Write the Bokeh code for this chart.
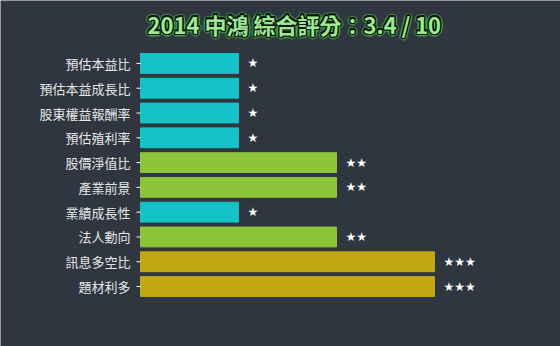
import math
import numpy as np
from bokeh.plotting import figure
from bokeh.models import ColumnDataSource, Range1d
from bokeh.embed import file_html
from bokeh.resources import INLINE
from bokeh.core.properties import value

categories = ["預估本益比", "預估本益成長比", "股東權益報酬率", "預估殖利率", "股價淨值比",
              "產業前景", "業績成長性", "法人動向", "訊息多空比", "題材利多"]
scores = [1, 1, 1, 1, 2, 2, 1, 2, 3, 3]
title_text = "2014 中鴻 綜合評分：3.4 / 10"

palette = {1: "#14c2c7", 2: "#8cc43a", 3: "#c2a814"}
bg = "#30363f"

rows = list(range(len(categories)))
src = ColumnDataSource(dict(
    row=rows,
    cat=categories,
    zero=[0] * len(rows),
    score=scores,
    color=[palette[s] for s in scores],
    stars=["★" * s for s in scores],
))

# frame fills the whole canvas; the category labels are drawn left of x = 0
p = figure(width=560, height=346,
           y_range=Range1d(11.42, -2.54), x_range=Range1d(-1.4286, 4.2857),
           output_backend="svg", toolbar_location=None,
           min_border_left=0, min_border_right=0, min_border_top=0, min_border_bottom=0)
p.background_fill_color = bg
p.border_fill_color = bg
p.outline_line_color = None
p.axis.visible = False
for g in p.grid:
    g.visible = False

p.hbar(y="row", left=0, right="score", height=0.8, color="color", source=src)
p.text(x="score", y="row", text="stars", source=src, x_offset=9,
       text_color="white", text_font_size="12px", text_baseline="middle",
       text_align="left", text_font=value("DejaVu Sans"))

# category axis: tick marks + labels
p.ray(x="zero", y="row", length=4, length_units="screen", angle=np.pi,
      line_color="white", line_width=1, source=src)
p.text(x="zero", y="row", text="cat", source=src, x_offset=-10,
       text_color="#e6e6e6", text_font_size="13px", text_baseline="middle",
       text_align="right", text_font=value("Noto Sans CJK TC"))

# title with glow + dark outline (layered)
tx, ty = [1.57], [-1.61]
common = dict(text_align="center", text_baseline="middle", text_font=value("Noto Sans CJK TC"),
              text_font_size="22px", text_font_style="bold")
for k in range(12):
    a = 2 * math.pi * k / 12
    p.text(x=tx, y=ty, text=[title_text], x_offset=3 * math.cos(a), y_offset=3 * math.sin(a),
           text_color="#4fd04f", text_alpha=0.35, **common)
for k in range(8):
    a = 2 * math.pi * k / 8
    p.text(x=tx, y=ty, text=[title_text], x_offset=1.5 * math.cos(a), y_offset=1.5 * math.sin(a),
           text_color="#0d160d", **common)
p.text(x=tx, y=ty, text=[title_text], text_color="#9fe895", **common)

html = file_html(p, INLINE)
html = html.replace("<body>", '<body style="background:%s;margin:0">' % bg, 1)
open("out.html", "w").write(html)
